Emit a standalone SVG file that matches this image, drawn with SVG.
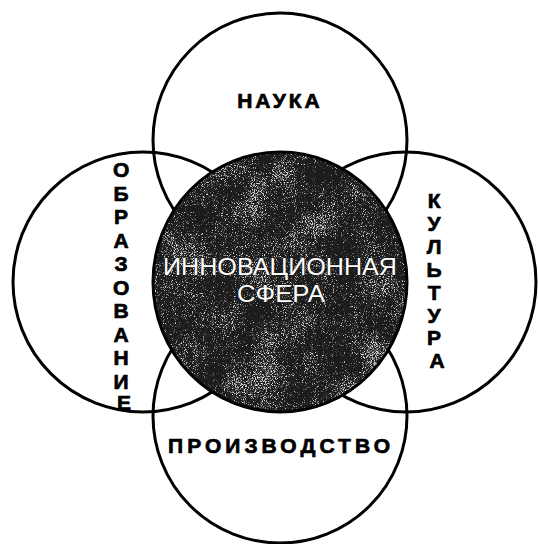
<svg xmlns="http://www.w3.org/2000/svg" width="538" height="544" viewBox="0 0 538 544">
  <style>
    .ring { fill: none; stroke: #000; stroke-width: 3; }
    .lbl { font-family: "Liberation Sans", Arial, sans-serif; font-weight: bold; font-size: 21px; fill: #000; stroke: #000; stroke-width: 0.7; text-anchor: middle; }
    .core { font-family: "Liberation Sans", Arial, sans-serif; font-size: 24px; fill: #fff; stroke: #111; stroke-width: 0.8; paint-order: stroke; text-anchor: middle; }
  </style>
  <defs>
    <filter id="tex" x="0" y="0" width="100%" height="100%" color-interpolation-filters="sRGB">
      <feTurbulence type="fractalNoise" baseFrequency="1.1" numOctaves="2" seed="4" result="hi0"/>
      <feColorMatrix in="hi0" type="matrix" values="1 0 0 0 0  1 0 0 0 0  1 0 0 0 0  0 0 0 0 1" result="hi"/>
      <feTurbulence type="fractalNoise" baseFrequency="0.025" numOctaves="2" seed="11" result="lo0"/>
      <feColorMatrix in="lo0" type="matrix" values="1 0 0 0 0  1 0 0 0 0  1 0 0 0 0  0 0 0 0 1" result="lo"/>
      <feComposite in="hi" in2="lo" operator="arithmetic" k1="0" k2="1" k3="0.4" k4="-0.2" result="mix"/>
      <feColorMatrix in="mix" type="matrix" values="0 0 0 0 0.85  0 0 0 0 0.85  0 0 0 0 0.85  5 0 0 0 -2.8" result="speck"/>
      <feComposite in="speck" in2="SourceGraphic" operator="atop"/>
    </filter>
  </defs>
  <rect width="538" height="544" fill="#fff"/>
  <g id="connectors"></g>
  <g id="nauka">
    <circle class="ring" cx="280" cy="140" r="127"/>
    <text class="lbl" x="280" y="108" letter-spacing="3">НАУКА</text>
  </g>
  <g id="proizvodstvo">
    <circle class="ring" cx="280" cy="416" r="127"/>
    <text class="lbl" x="279" y="453" textLength="222" lengthAdjust="spacing">ПРОИЗВОДСТВО</text>
  </g>
  <g id="obrazovanie">
    <circle class="ring" cx="143" cy="282" r="130"/>
    <text class="lbl">
      <tspan x="124" y="177">О</tspan>
      <tspan x="124" y="200.5">Б</tspan>
      <tspan x="124" y="224">Р</tspan>
      <tspan x="124" y="247.5">А</tspan>
      <tspan x="124" y="271">З</tspan>
      <tspan x="124" y="294.5">О</tspan>
      <tspan x="124" y="318">В</tspan>
      <tspan x="124" y="341.5">А</tspan>
      <tspan x="124" y="365">Н</tspan>
      <tspan x="124" y="388.5">И</tspan>
      <tspan x="124" y="410">Е</tspan>
    </text>
  </g>
  <g id="kultura">
    <circle class="ring" cx="406" cy="282" r="130"/>
    <text class="lbl">
      <tspan x="437" y="208">К</tspan>
      <tspan x="437" y="230.9">У</tspan>
      <tspan x="437" y="253.8">Л</tspan>
      <tspan x="437" y="276.7">Ь</tspan>
      <tspan x="437" y="299.6">Т</tspan>
      <tspan x="437" y="322.5">У</tspan>
      <tspan x="437" y="345.4">Р</tspan>
      <tspan x="437" y="368">А</tspan>
    </text>
  </g>
  <g id="innovacionnaya">
    <ellipse cx="280" cy="282" rx="127" ry="130" fill="#1c1c1c" filter="url(#tex)"/>
    <ellipse cx="280" cy="282" rx="127" ry="130" fill="none" stroke="#000" stroke-width="3"/>
    <text class="core" x="280" y="275" textLength="234" lengthAdjust="spacingAndGlyphs">ИННОВАЦИОННАЯ</text>
    <text class="core" x="281" y="302" textLength="88" lengthAdjust="spacingAndGlyphs">СФЕРА</text>
  </g>
</svg>
